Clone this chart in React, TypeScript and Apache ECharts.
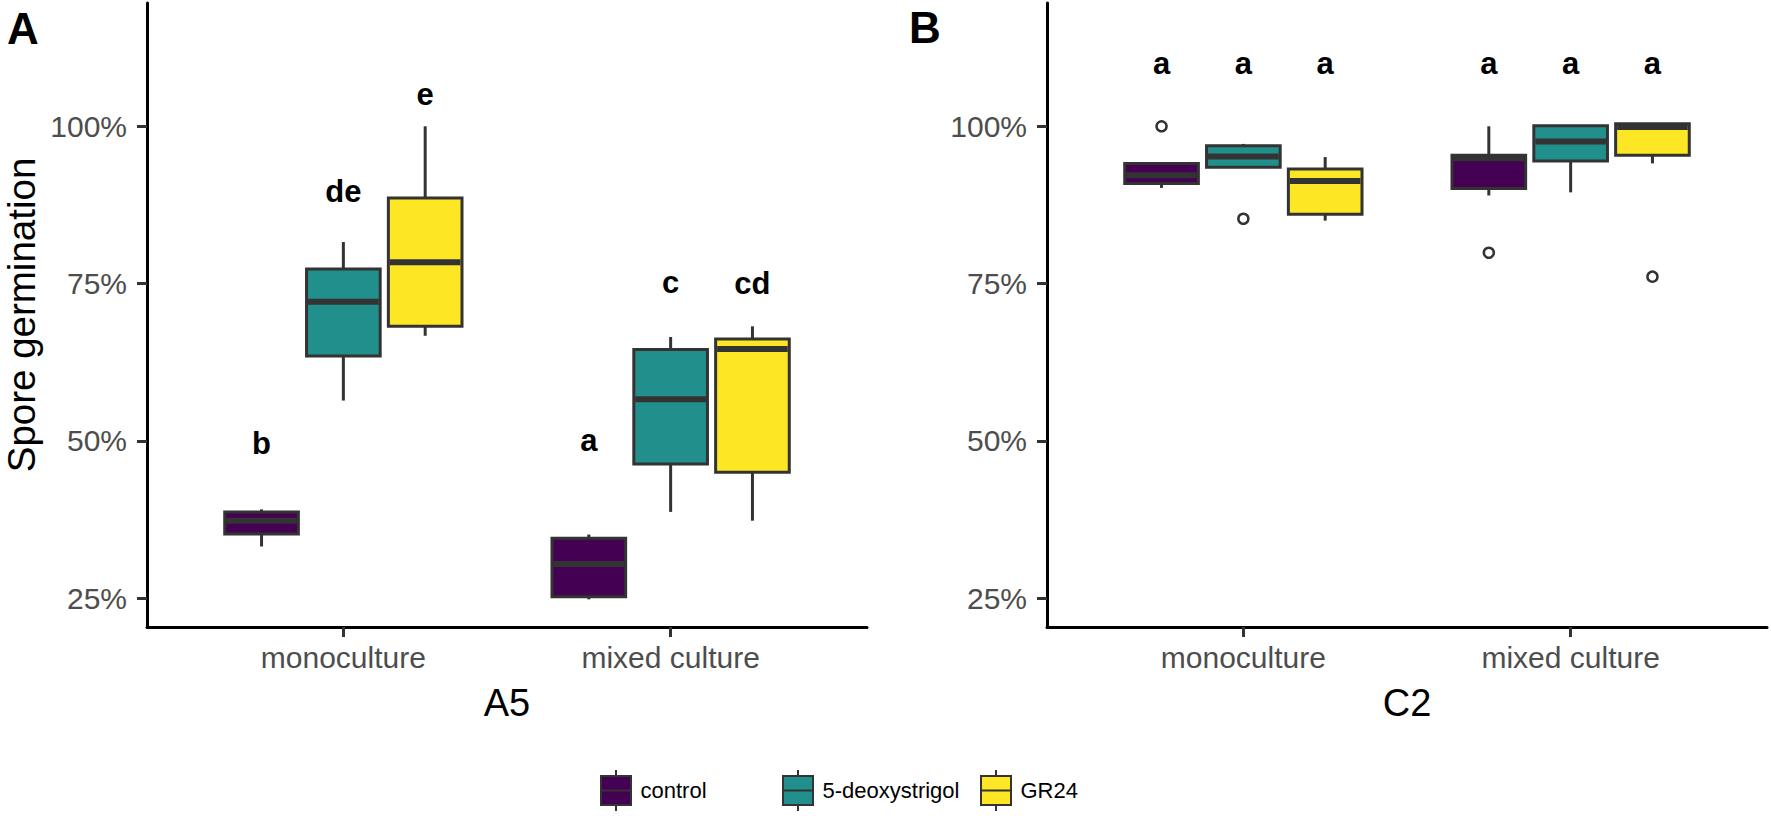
import React, { useEffect, useRef } from "react";
import * as echarts from "echarts";

// ---------- data ----------
const groups = ["monoculture", "mixed culture"];
const treatments = ["control", "5-deoxystrigol", "GR24"];
const colors = ["#440154", "#21908C", "#FDE725"];
const yTicks = [25, 50, 75, 100];

// each row: [lower whisker, Q1, median, Q3, upper whisker], one row per group
const a5Control = [
  [33.2, 35.2, 37.3, 38.7, 39.1],
  [24.8, 25.2, 30.4, 34.5, 35.1],
];
const a5Deoxy = [
  [56.4, 63.5, 72.1, 77.3, 81.6],
  [38.7, 46.3, 56.6, 64.5, 66.5],
];
const a5GR24 = [
  [66.7, 68.2, 78.4, 88.6, 100.0],
  [37.3, 45.0, 64.6, 66.2, 68.2],
];
const c2Control = [
  [90.2, 90.9, 92.2, 94.1, 94.3],
  [89.0, 90.1, 94.9, 95.4, 100.0],
];
const c2Deoxy = [
  [93.4, 93.5, 95.2, 96.9, 97.2],
  [89.5, 94.5, 97.6, 100.1, 100.1],
];
const c2GR24 = [
  [85.0, 86.0, 91.3, 93.2, 95.1],
  [94.1, 95.4, 99.9, 100.4, 100.4],
];

// outliers: [group index (0/1), treatment index (0..2), value]
const c2Outliers = [
  [0, 0, 100.0],
  [0, 1, 85.3],
  [1, 0, 79.9],
  [1, 2, 76.1],
];

// significance letters per group and treatment, with their heights
const a5Letters = [
  ["b", "de", "e"],
  ["a", "c", "cd"],
];
const a5LetterY = [
  [49.6, 89.6, 105.0],
  [50.0, 75.2, 75.0],
];
const c2Letters = [
  ["a", "a", "a"],
  ["a", "a", "a"],
];
const c2LetterY = [
  [110.0, 110.0, 110.0],
  [110.0, 110.0, 110.0],
];

const FONT = "'Liberation Sans', Arial, Helvetica, sans-serif";
const DODGE = 0.25;
const BOX_W = 0.225;

const xPos = (g: number, t: number) => g + 1 + (t - 1) * DODGE;

function boxSeries(name: string, t: number, stats: number[][], axis: number) {
  const color = colors[t];
  return {
    type: "custom",
    name,
    xAxisIndex: axis,
    yAxisIndex: axis,
    itemStyle: { color, borderColor: "#333333", borderWidth: 2 },
    encode: { x: 0, y: [1, 2, 3, 4, 5] },
    data: stats.map((s, g) => [xPos(g, t), ...s]),
    renderItem: (params: any, api: any) => {
      const x = api.value(0);
      const cx = api.coord([x, api.value(1)])[0];
      const yLow = api.coord([x, api.value(1)])[1];
      const yQ1 = api.coord([x, api.value(2)])[1];
      const yMed = api.coord([x, api.value(3)])[1];
      const yQ3 = api.coord([x, api.value(4)])[1];
      const yHigh = api.coord([x, api.value(5)])[1];
      const half = api.size([BOX_W, 0])[0] / 2;
      const lineStyle = { stroke: "#333333", lineWidth: 3 };
      return {
        type: "group",
        children: [
          { type: "line", shape: { x1: cx, y1: yQ3, x2: cx, y2: yHigh }, style: lineStyle },
          { type: "line", shape: { x1: cx, y1: yQ1, x2: cx, y2: yLow }, style: lineStyle },
          {
            type: "rect",
            shape: { x: cx - half, y: yQ3, width: half * 2, height: yQ1 - yQ3 },
            style: { fill: color, stroke: "#333333", lineWidth: 3 },
          },
          {
            type: "line",
            shape: { x1: cx - half + 1.5, y1: yMed, x2: cx + half - 1.5, y2: yMed },
            style: { stroke: "#333333", lineWidth: 6 },
          },
        ],
      };
    },
  };
}

function letterSeries(labels: string[][], ys: number[][], axis: number) {
  const data: number[][] = [];
  const texts: string[] = [];
  labels.forEach((row, g) =>
    row.forEach((lab, t) => {
      data.push([xPos(g, t), ys[g][t]]);
      texts.push(lab);
    })
  );
  return {
    type: "custom",
    name: "letters" + axis,
    xAxisIndex: axis,
    yAxisIndex: axis,
    encode: { x: 0, y: 1 },
    data,
    renderItem: (params: any, api: any) => {
      const p = api.coord([api.value(0), api.value(1)]);
      return {
        type: "text",
        x: p[0],
        y: p[1],
        style: {
          text: texts[params.dataIndex],
          fill: "#000000",
          fontSize: 31,
          fontWeight: "bold",
          fontFamily: FONT,
          align: "center",
          verticalAlign: "middle",
        },
      };
    },
  };
}

function makeXAxis(i: number) {
  return {
    type: "value",
    gridIndex: i,
    min: 0.4,
    max: 2.6,
    axisLine: { show: true, onZero: false, lineStyle: { color: "#000000", width: 3 } },
    axisTick: { show: true, customValues: [1, 2], length: 10, lineStyle: { color: "#333333", width: 3 } },
    axisLabel: {
      customValues: [1, 2],
      formatter: (v: number) => groups[Math.round(v) - 1],
      fontSize: 30,
      color: "#4D4D4D",
      fontFamily: FONT,
      margin: 15,
    },
    splitLine: { show: false },
  };
}

function makeYAxis(i: number) {
  return {
    type: "value",
    gridIndex: i,
    min: 20.4,
    max: 119.6,
    axisLine: { show: true, lineStyle: { color: "#000000", width: 3 } },
    axisTick: { show: true, customValues: yTicks, length: 10, lineStyle: { color: "#333333", width: 3 } },
    axisLabel: {
      customValues: yTicks,
      formatter: (v: number) => v + "%",
      fontSize: 30,
      color: "#4D4D4D",
      fontFamily: FONT,
      margin: 20,
    },
    splitLine: { show: false },
  };
}

const LEGEND_ICON =
  "path://M1.5,6L31.5,6L31.5,35L1.5,35ZM1.5,20.5L31.5,20.5M16.5,0L16.5,6M16.5,35L16.5,41";
const legendLefts = [595, 777, 975];

export default function App() {
  const ref = useRef<HTMLDivElement>(null);

  useEffect(() => {
    document.body.style.margin = "0";
    if (!ref.current) return;
    const chart = echarts.init(ref.current, undefined, { renderer: "svg" });

    const outlierSeries = [
      {
        type: "scatter",
        name: "outliers",
        xAxisIndex: 1,
        yAxisIndex: 1,
        symbol: "circle",
        symbolSize: 10,
        itemStyle: { color: "#ffffff", borderColor: "#000000", borderWidth: 2.5 },
        data: c2Outliers.map((o) => [xPos(o[0], o[1]), o[2]]),
        z: 5,
      },
    ];

    const option = {
      animation: false,
      backgroundColor: "#ffffff",
      grid: [
        { left: 147, top: 3, width: 720, height: 624 },
        { left: 1047, top: 3, width: 720, height: 624 },
      ],
      xAxis: [makeXAxis(0), makeXAxis(1)],
      yAxis: [makeYAxis(0), makeYAxis(1)],
      legend: treatments.map((name, i) => ({
        data: [name],
        left: legendLefts[i],
        top: 764,
        orient: "horizontal",
        icon: LEGEND_ICON,
        itemWidth: 33,
        itemHeight: 41,
        itemStyle: { borderColor: "#333333", borderWidth: 2 },
        textStyle: { fontSize: 22, color: "#000000", fontFamily: FONT, padding: [0, 0, 0, 3] },
        selectedMode: false,
      })),
      graphic: [
        {
          type: "text",
          x: 21,
          y: 315,
          rotation: Math.PI / 2,
          style: {
            text: "Spore germination",
            fontSize: 38.5,
            fill: "#000000",
            fontFamily: FONT,
            align: "center",
            verticalAlign: "middle",
          },
        },
        {
          type: "text",
          x: 507,
          y: 703,
          style: { text: "A5", fontSize: 38, fill: "#000000", fontFamily: FONT, align: "center", verticalAlign: "middle" },
        },
        {
          type: "text",
          x: 1407,
          y: 703,
          style: { text: "C2", fontSize: 38, fill: "#000000", fontFamily: FONT, align: "center", verticalAlign: "middle" },
        },
        {
          type: "text",
          x: 23,
          y: 28,
          style: { text: "A", fontSize: 44, fontWeight: "bold", fill: "#000000", fontFamily: FONT, align: "center", verticalAlign: "middle" },
        },
        {
          type: "text",
          x: 925,
          y: 27,
          style: { text: "B", fontSize: 44, fontWeight: "bold", fill: "#000000", fontFamily: FONT, align: "center", verticalAlign: "middle" },
        },
      ],
      series: [
        boxSeries(treatments[0], 0, a5Control, 0),
        boxSeries(treatments[1], 1, a5Deoxy, 0),
        boxSeries(treatments[2], 2, a5GR24, 0),
        boxSeries(treatments[0], 0, c2Control, 1),
        boxSeries(treatments[1], 1, c2Deoxy, 1),
        boxSeries(treatments[2], 2, c2GR24, 1),
        ...outlierSeries,
        letterSeries(a5Letters, a5LetterY, 0),
        letterSeries(c2Letters, c2LetterY, 1),
      ],
    };

    chart.setOption(option as any);
    return () => chart.dispose();
  }, []);

  return <div ref={ref} style={{ width: 1771, height: 816 }} />;
}
